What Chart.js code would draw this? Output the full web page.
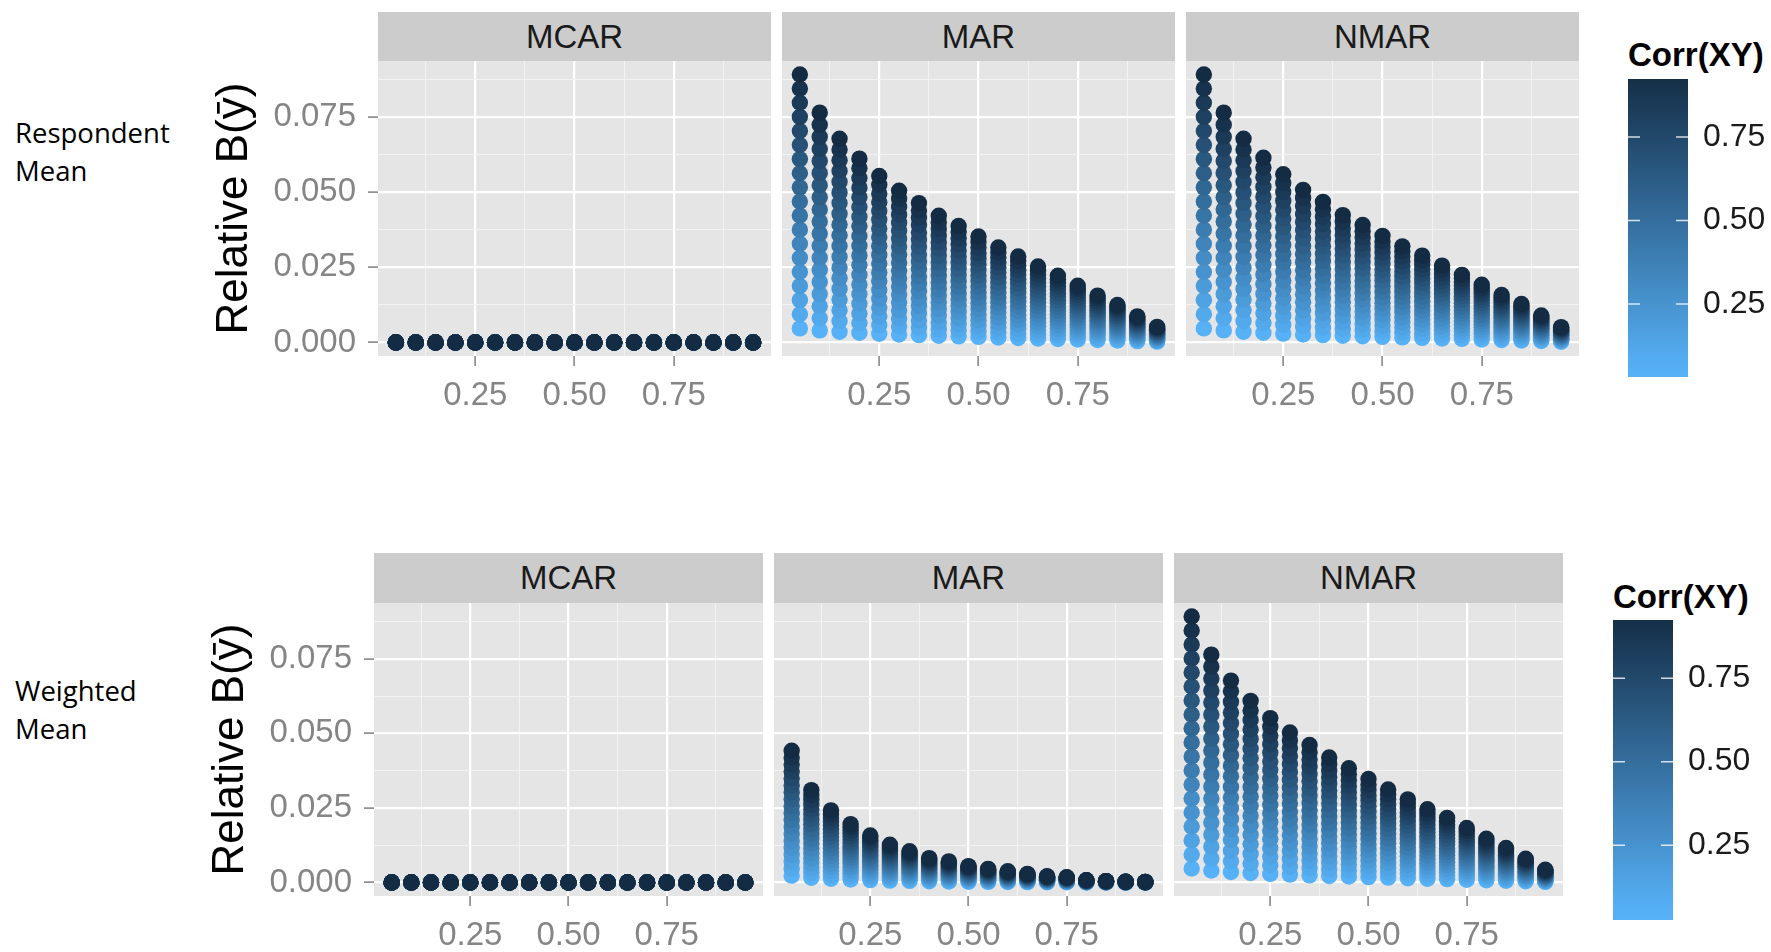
<!DOCTYPE html>
<html>
<head>
<meta charset="utf-8">
<script src="https://cdn.jsdelivr.net/npm/chart.js@4.4.1/dist/chart.umd.min.js"></script>
<style>
  body { margin: 0; background: #fff; }
  #page { position: relative; width: 1771px; height: 952px; overflow: hidden; font-family: "Liberation Sans", Arial, sans-serif; }
  #page canvas { position: absolute; }
  .strip { position: absolute; background: #CCCCCC; color: #1a1a1a; font-size: 33px; display: flex; align-items: center; justify-content: center; }
  .rowlab { position: absolute; font-family: "Open Sans", sans-serif; font-size: 27.5px; line-height: 38px; color: #000; }
  .legtitle { position: absolute; font-weight: bold; font-size: 33px; line-height: 36px; color: #000; }
</style>
</head>
<body>
<div id="page"></div>
<script>
// x position of each column of dots
const xValues = [0.05, 0.10, 0.15, 0.20, 0.25, 0.30, 0.35, 0.40, 0.45, 0.50, 0.55, 0.60, 0.65, 0.70, 0.75, 0.80, 0.85, 0.90, 0.95];
// Corr(XY) levels stacked in every column (lowest = light, highest = dark)
const corrLevels = [0.05, 0.10, 0.15, 0.20, 0.25, 0.30, 0.35, 0.40, 0.45, 0.50, 0.55, 0.60, 0.65, 0.70, 0.75, 0.80, 0.85, 0.90, 0.95];
const panelNames = ['MCAR', 'MAR', 'NMAR'];
const rowNames = [['Respondent', 'Mean'], ['Weighted', 'Mean']];

// relative bias of the top dot (highest Corr(XY)) in each column;
// inside a column the bias grows in a straight line with Corr(XY)
const respMCAR = [0, 0, 0, 0, 0, 0, 0, 0, 0, 0, 0, 0, 0, 0, 0, 0, 0, 0, 0];
const respMAR = [0.0892, 0.0765, 0.0678, 0.0612, 0.0554, 0.0505, 0.0464, 0.0422, 0.0388, 0.0353, 0.0316, 0.0286, 0.0253, 0.0222, 0.0189, 0.0156, 0.0125, 0.0087, 0.0052];
const respNMAR = [0.0892, 0.0765, 0.0678, 0.0615, 0.0560, 0.0508, 0.0468, 0.0424, 0.0391, 0.0355, 0.0320, 0.0289, 0.0256, 0.0225, 0.0192, 0.0158, 0.0128, 0.0090, 0.0051];
const wtdMCAR = [0, 0, 0, 0, 0, 0, 0, 0, 0, 0, 0, 0, 0, 0, 0, 0, 0, 0, 0];
const wtdMAR = [0.0442, 0.0310, 0.0242, 0.0196, 0.0158, 0.0127, 0.0105, 0.0082, 0.0071, 0.0055, 0.0046, 0.0038, 0.0029, 0.0021, 0.0018, 0.0008, 0.0005, 0.0003, 0.0002];
const wtdNMAR = [0.0892, 0.0764, 0.0677, 0.0609, 0.0551, 0.0503, 0.0461, 0.0419, 0.0383, 0.0347, 0.0312, 0.0279, 0.0246, 0.0217, 0.0183, 0.0147, 0.0116, 0.0080, 0.0043];

// axis breaks
const yTicks = [0, 0.025, 0.05, 0.075];
const yMinor = [0.0125, 0.0375, 0.0625, 0.0875];
const xTicks = [0.25, 0.5, 0.75];
const xMinor = [0.125, 0.375, 0.625, 0.875];
const legendTicks = [0.25, 0.5, 0.75];

const page = document.getElementById('page');
const LOW = [0x56, 0xB1, 0xF7], HIGH = [0x13, 0x2B, 0x43];
const corrMin = corrLevels[0], corrMax = corrLevels[corrLevels.length - 1];

// colour of a Corr(XY) value on the light -> dark gradient
let corrColor = (c) => {
    let t = (c - corrMin) / (corrMax - corrMin);
    t = Math.max(0, Math.min(1, t));
    const rgb = LOW.map((lo, k) => Math.round(lo + (HIGH[k] - lo) * t));
    return 'rgb(' + rgb.join(',') + ')';
}

const isIn = (list, v) => list.some(t => Math.abs(t - v) < 1e-9);
const byNum = (a, b) => a - b;

// no extra room for tick labels: the chart area is the panel
const noPad = (s) => { s.paddingLeft = 0; s.paddingRight = 0; s.paddingTop = 0; s.paddingBottom = 0; };

// grey panel background
const panelBg = {
    id: 'panelBg',
    beforeDraw(chart) {
        const a = chart.chartArea, ctx = chart.ctx;
        ctx.save();
        ctx.fillStyle = '#E5E5E5';
        ctx.fillRect(a.left, a.top, a.right - a.left, a.bottom - a.top);
        ctx.restore();
    }
}

const rows = [
    { top: 61, bottom: 356, stripTop: 12, xs: [378, 782, 1186], w: 393, data: [respMCAR, respMAR, respNMAR],
      leg: { left: 1628, top: 79, bottom: 377, titleY: 55, min: 0.031, max: 0.924 }, labelY: 114 },
    { top: 603, bottom: 896, stripTop: 553, xs: [374, 774, 1174], w: 389, data: [wtdMCAR, wtdMAR, wtdNMAR],
      leg: { left: 1613, top: 620, bottom: 920, titleY: 597, min: 0.026, max: 0.924 }, labelY: 672 }
];

const tickFont = { family: '"Liberation Sans", Arial, sans-serif', size: 33 };
const legFont = { family: '"Liberation Sans", Arial, sans-serif', size: 32 };

/**
 * crea un panel (una faceta) con su canvas propio
 */
function makePanel(r, col) {
    const left = r.xs[col];
    const yW = col === 0 ? 170 : 0;
    const xH = 56;
    const tops = r.data[col];

    // strip con el nombre del mecanismo
    const strip = document.createElement('div');
    strip.className = 'strip';
    strip.style.left = left + 'px';
    strip.style.top = r.stripTop + 'px';
    strip.style.width = r.w + 'px';
    strip.style.height = (r.top - r.stripTop) + 'px';
    strip.textContent = panelNames[col];
    page.appendChild(strip);

    const cv = document.createElement('canvas');
    cv.width = r.w + yW;
    cv.height = (r.bottom - r.top) + xH;
    cv.style.left = (left - yW) + 'px';
    cv.style.top = r.top + 'px';
    page.appendChild(cv);

    // Chart.js pinta el primer dataset encima: el más oscuro va primero
    const datasets = corrLevels.slice().reverse().map(c => ({
        data: xValues.map((x, i) => ({ x: x, y: tops[i] * c / corrMax })),
        backgroundColor: corrColor(c),
        borderWidth: 0,
        pointRadius: 8.2,
        pointHoverRadius: 8.2
    }));

    new Chart(cv, {
        type: 'scatter',
        data: { datasets: datasets },
        plugins: [panelBg],
        options: {
            responsive: false,
            animation: false,
            devicePixelRatio: 1,
            layout: { padding: 0, autoPadding: false },
            plugins: { legend: { display: false }, tooltip: { enabled: false } },
            scales: {
                x: {
                    type: 'linear', min: 0.005, max: 0.995,
                    afterBuildTicks: (s) => { s.ticks = xMinor.concat(xTicks).sort(byNum).map(v => ({ value: v })); },
                    afterFit: (s) => { s.height = xH; noPad(s); },
                    border: { display: false },
                    grid: {
                        color: (ctx) => isIn(xTicks, ctx.tick.value) ? '#FFFFFF' : '#F2F2F2',
                        lineWidth: (ctx) => isIn(xTicks, ctx.tick.value) ? 2.2 : 1,
                        tickColor: (ctx) => isIn(xTicks, ctx.tick.value) ? '#7F7F7F' : 'rgba(0,0,0,0)',
                        tickLength: 10,
                        tickWidth: 1.5
                    },
                    ticks: {
                        autoSkip: false, maxRotation: 0, padding: 10,
                        color: '#858585', font: tickFont,
                        callback: (v) => isIn(xTicks, v) ? v.toFixed(2) : ''
                    }
                },
                y: {
                    type: 'linear', min: -0.0045, max: 0.0937,
                    afterBuildTicks: (s) => { s.ticks = yMinor.concat(yTicks).sort(byNum).map(v => ({ value: v })); },
                    afterFit: (s) => { s.width = yW; noPad(s); },
                    border: { display: false },
                    title: {
                        display: col === 0, text: 'Relative B(ȳ)', color: '#000',
                        font: { family: '"Liberation Sans", Arial, sans-serif', size: 44 }, padding: 0
                    },
                    grid: {
                        color: (ctx) => isIn(yTicks, ctx.tick.value) ? '#FFFFFF' : '#F2F2F2',
                        lineWidth: (ctx) => isIn(yTicks, ctx.tick.value) ? 2.2 : 1,
                        tickColor: (ctx) => isIn(yTicks, ctx.tick.value) ? '#7F7F7F' : 'rgba(0,0,0,0)',
                        drawTicks: col === 0,
                        tickLength: 10,
                        tickWidth: 1.5
                    },
                    ticks: {
                        display: col === 0,
                        autoSkip: false, padding: 12,
                        color: '#858585', font: tickFont,
                        callback: (v) => isIn(yTicks, v) ? v.toFixed(3) : ''
                    }
                }
            }
        }
    })
}

/**
 * barra de color de Corr(XY)
 */
function makeLegend(r) {
    const g = r.leg;
    const barW = 60, labW = 95;

    const title = document.createElement('div');
    title.className = 'legtitle';
    title.style.left = g.left + 'px';
    title.style.top = (g.titleY - 18) + 'px';
    title.textContent = 'Corr(XY)';
    page.appendChild(title);

    const cv = document.createElement('canvas');
    cv.width = barW + labW;
    cv.height = g.bottom - g.top;
    cv.style.left = g.left + 'px';
    cv.style.top = g.top + 'px';
    page.appendChild(cv);

    const gradientBar = {
        id: 'gradientBar',
        beforeDraw(chart) {
            const a = chart.chartArea, ctx = chart.ctx, ys = chart.scales.y;
            const grad = ctx.createLinearGradient(0, a.bottom, 0, a.top);
            for (let k = 0; k <= 20; k++) {
                grad.addColorStop(k / 20, corrColor(ys.min + (ys.max - ys.min) * k / 20));
            }
            ctx.save();
            ctx.fillStyle = grad;
            ctx.fillRect(a.left, a.top, a.right - a.left, a.bottom - a.top);
            ctx.restore();
        },
        afterDraw(chart) {
            const a = chart.chartArea, ctx = chart.ctx, ys = chart.scales.y;
            ctx.save();
            ctx.strokeStyle = 'rgba(255,255,255,0.8)';
            ctx.lineWidth = 1.5;
            legendTicks.forEach(v => {
                const py = ys.getPixelForValue(v);
                ctx.beginPath();
                ctx.moveTo(a.left, py); ctx.lineTo(a.left + 12, py);
                ctx.moveTo(a.right - 12, py); ctx.lineTo(a.right, py);
                ctx.stroke();
            });
            ctx.restore();
        }
    }

    new Chart(cv, {
        type: 'scatter',
        data: { datasets: [] },
        plugins: [gradientBar],
        options: {
            responsive: false,
            animation: false,
            devicePixelRatio: 1,
            layout: { padding: 0, autoPadding: false },
            plugins: { legend: { display: false }, tooltip: { enabled: false } },
            scales: {
                x: { type: 'linear', display: false, min: 0, max: 1 },
                y: {
                    type: 'linear', position: 'right', min: g.min, max: g.max,
                    afterBuildTicks: (s) => { s.ticks = legendTicks.map(v => ({ value: v })); },
                    afterFit: (s) => { s.width = labW; noPad(s); },
                    border: { display: false },
                    grid: { display: false, drawTicks: false },
                    ticks: {
                        padding: 15, color: '#1a1a1a', font: legFont,
                        callback: (v) => v.toFixed(2)
                    }
                }
            }
        }
    })
}

rows.forEach((r, ri) => {
    const lab = document.createElement('div');
    lab.className = 'rowlab';
    lab.style.left = '15px';
    lab.style.top = r.labelY + 'px';
    lab.innerHTML = rowNames[ri].join('<br>');
    page.appendChild(lab);

    panelNames.forEach((name, col) => makePanel(r, col));
    makeLegend(r);
});
</script>
</body>
</html>
